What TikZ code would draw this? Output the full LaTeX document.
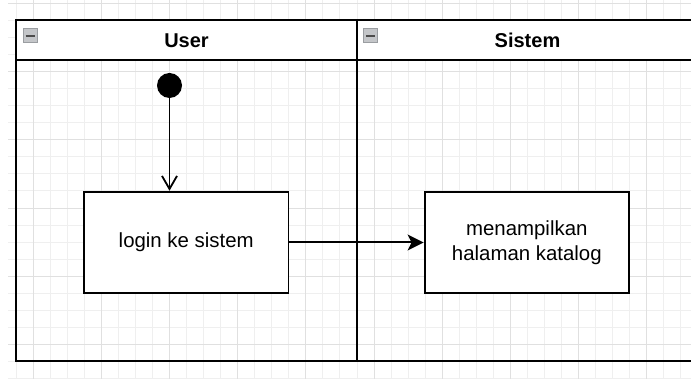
\documentclass[tikz,border=0pt]{standalone}
\usepackage{fontspec}
\setmainfont{Liberation Sans}
\usetikzlibrary{arrows.meta}
\definecolor{gridminor}{HTML}{EFEFEF}
\definecolor{gridmajor}{HTML}{E0E0E0}
\definecolor{iconfill}{HTML}{C4C6C9}
\definecolor{iconedge}{HTML}{9A9DA1}
\begin{document}
\begin{tikzpicture}[x=1pt,y=-1pt,
  lanehead/.style={draw=black, fill=white, line width=2pt, minimum width=341pt, minimum height=40pt, inner sep=0pt,
    font=\fontsize{20}{24}\selectfont\bfseries},
  lanebody/.style={draw=black, line width=2pt, minimum width=341pt, minimum height=301pt, inner sep=0pt},
  actbox/.style={draw=black, fill=white, line width=1.9pt, minimum width=204.5pt, minimum height=101.6pt, inner sep=0pt,
    align=center, font=\fontsize{20.4}{25}\selectfont},
  startdot/.style={circle, fill=black, minimum size=25pt, inner sep=0pt},
  icon/.style={draw=iconedge, fill=iconfill, line width=0.8pt, minimum size=14pt, inner sep=0pt,
    path picture={\draw[black!70, line width=1.6pt] ([xshift=-4.5pt]path picture bounding box.center) -- ([xshift=4.5pt]path picture bounding box.center);}},
  openarrow/.style={line width=1.9pt, -{Straight Barb[length=13pt, width=15pt, line width=1.8pt]}},
  filledarrow/.style={line width=2pt, -{Stealth[length=16pt, width=16pt, inset=4pt]}}
]
\useasboundingbox (0,0) rectangle (691,379);
\fill[white] (0,0) rectangle (691,379);
% background grid
\begin{scope}
  \clip (8,0) rectangle (691,379);
  \foreach \k in {-1,...,39} {
    \pgfmathsetmacro\gx{33.4+17.03*\k}
    \draw[gridminor, line width=0.9pt] (\gx,0) -- (\gx,379);
  }
  \foreach \k in {0,...,22} {
    \pgfmathsetmacro\gy{3.6+17.03*\k}
    \draw[gridminor, line width=0.9pt] (8,\gy) -- (691,\gy);
  }
  \foreach \k in {0,4,...,36} {
    \pgfmathsetmacro\gx{33.4+17.03*\k}
    \draw[gridmajor, line width=0.9pt] (\gx,0) -- (\gx,379);
  }
  \foreach \k in {0,4,...,20} {
    \pgfmathsetmacro\gy{3.6+17.03*\k}
    \draw[gridmajor, line width=0.9pt] (8,\gy) -- (691,\gy);
  }
\end{scope}
% swimlanes
\node[lanebody] (userlane) at (186.5,210.7) {};
\node[lanebody] (sistemlane) at (527.5,210.7) {};
\node[lanehead] (userhead) at (186.5,40.3) {User};
\node[lanehead] (sistemhead) at (527.5,40.3) {Sistem};
\node[icon] (usericon) at (30,35.8) {};
\node[icon] (sistemicon) at (370.8,35.8) {};
% activities
\node[startdot] (start) at (169.5,85.5) {};
\node[actbox] (login) at (186.2,242.5) {login ke sistem};
\node[actbox] (katalog) at (526.8,242.5) {menampilkan\\halaman katalog};
% connectors
\draw[openarrow] (start) -- (start |- login.north);
\draw[filledarrow] (login) -- (katalog);
\end{tikzpicture}
\end{document}
